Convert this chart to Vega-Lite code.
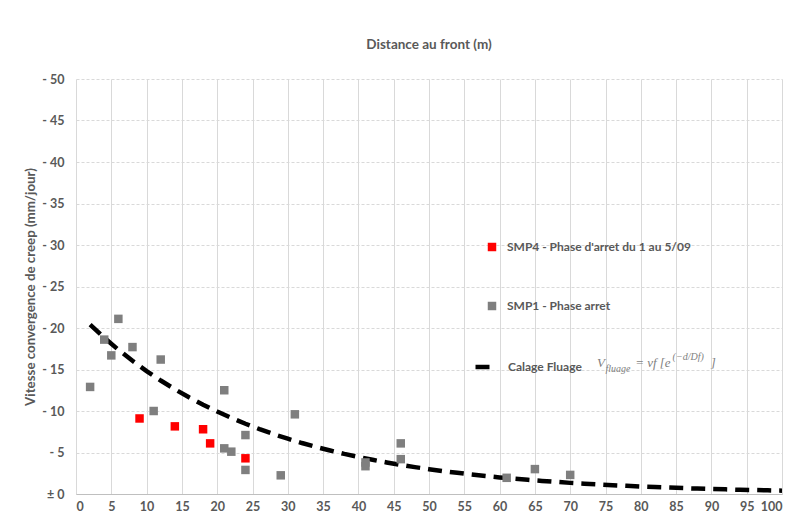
{
  "$schema": "https://vega.github.io/schema/vega-lite/v6.json",
  "autosize": "none",
  "width": 706,
  "height": 415,
  "padding": {"left": 76, "top": 79, "right": 8, "bottom": 27},
  "background": "white",
  "config": {
    "font": "Lato",
    "view": {"stroke": null},
    "axis": {"labelColor": "#595959", "titleColor": "#595959", "labelFont": "Lato", "titleFont": "Lato", "labelFontWeight": "bold", "titleFontWeight": "bold", "labelFontSize": 12.5, "titleFontSize": 13.3, "gridColor": "#d9d9d9", "ticks": false, "labelOverlap": false}
  },
  "title": {"text": "Distance au front (m)", "anchor": "middle", "frame": "group", "fontSize": 13.5, "fontWeight": "bold", "color": "#595959", "font": "Lato", "offset": 22},
  "datasets": {
    "pts": [
      {"d": 2, "v": 12.9, "series": "SMP1 - Phase arret"},
      {"d": 4, "v": 18.6, "series": "SMP1 - Phase arret"},
      {"d": 5, "v": 16.7, "series": "SMP1 - Phase arret"},
      {"d": 6, "v": 21.1, "series": "SMP1 - Phase arret"},
      {"d": 8, "v": 17.7, "series": "SMP1 - Phase arret"},
      {"d": 11, "v": 10.0, "series": "SMP1 - Phase arret"},
      {"d": 12, "v": 16.2, "series": "SMP1 - Phase arret"},
      {"d": 21, "v": 12.5, "series": "SMP1 - Phase arret"},
      {"d": 21, "v": 5.5, "series": "SMP1 - Phase arret"},
      {"d": 22, "v": 5.1, "series": "SMP1 - Phase arret"},
      {"d": 24, "v": 7.1, "series": "SMP1 - Phase arret"},
      {"d": 24, "v": 2.9, "series": "SMP1 - Phase arret"},
      {"d": 29, "v": 2.25, "series": "SMP1 - Phase arret"},
      {"d": 31, "v": 9.6, "series": "SMP1 - Phase arret"},
      {"d": 41, "v": 3.8, "series": "SMP1 - Phase arret"},
      {"d": 41, "v": 3.35, "series": "SMP1 - Phase arret"},
      {"d": 46, "v": 6.1, "series": "SMP1 - Phase arret"},
      {"d": 46, "v": 4.2, "series": "SMP1 - Phase arret"},
      {"d": 61, "v": 1.95, "series": "SMP1 - Phase arret"},
      {"d": 65, "v": 3.0, "series": "SMP1 - Phase arret"},
      {"d": 70, "v": 2.3, "series": "SMP1 - Phase arret"},
      {"d": 9, "v": 9.1, "series": "SMP4 - Phase d'arret du 1 au 5/09"},
      {"d": 14, "v": 8.15, "series": "SMP4 - Phase d'arret du 1 au 5/09"},
      {"d": 18, "v": 7.8, "series": "SMP4 - Phase d'arret du 1 au 5/09"},
      {"d": 19, "v": 6.1, "series": "SMP4 - Phase d'arret du 1 au 5/09"},
      {"d": 24, "v": 4.3, "series": "SMP4 - Phase d'arret du 1 au 5/09"}
    ],
    "fit": [
      {"d": 2, "v": 20.40, "name": "Calage Fluage"}, {"d": 4, "v": 18.83, "name": "Calage Fluage"}, {"d": 6, "v": 17.38, "name": "Calage Fluage"}, {"d": 8, "v": 16.05, "name": "Calage Fluage"},
      {"d": 10, "v": 14.81, "name": "Calage Fluage"}, {"d": 12, "v": 13.67, "name": "Calage Fluage"}, {"d": 14, "v": 12.62, "name": "Calage Fluage"}, {"d": 16, "v": 11.65, "name": "Calage Fluage"},
      {"d": 18, "v": 10.76, "name": "Calage Fluage"}, {"d": 20, "v": 9.93, "name": "Calage Fluage"}, {"d": 22, "v": 9.17, "name": "Calage Fluage"}, {"d": 24, "v": 8.46, "name": "Calage Fluage"},
      {"d": 26, "v": 7.81, "name": "Calage Fluage"}, {"d": 28, "v": 7.21, "name": "Calage Fluage"}, {"d": 30, "v": 6.66, "name": "Calage Fluage"}, {"d": 32, "v": 6.14, "name": "Calage Fluage"},
      {"d": 34, "v": 5.67, "name": "Calage Fluage"}, {"d": 36, "v": 5.24, "name": "Calage Fluage"}, {"d": 38, "v": 4.83, "name": "Calage Fluage"}, {"d": 40, "v": 4.46, "name": "Calage Fluage"},
      {"d": 42, "v": 4.12, "name": "Calage Fluage"}, {"d": 44, "v": 3.80, "name": "Calage Fluage"}, {"d": 46, "v": 3.51, "name": "Calage Fluage"}, {"d": 48, "v": 3.24, "name": "Calage Fluage"},
      {"d": 50, "v": 2.99, "name": "Calage Fluage"}, {"d": 52, "v": 2.76, "name": "Calage Fluage"}, {"d": 54, "v": 2.55, "name": "Calage Fluage"}, {"d": 56, "v": 2.35, "name": "Calage Fluage"},
      {"d": 58, "v": 2.17, "name": "Calage Fluage"}, {"d": 60, "v": 2.00, "name": "Calage Fluage"}, {"d": 62, "v": 1.85, "name": "Calage Fluage"}, {"d": 64, "v": 1.71, "name": "Calage Fluage"},
      {"d": 66, "v": 1.58, "name": "Calage Fluage"}, {"d": 68, "v": 1.46, "name": "Calage Fluage"}, {"d": 70, "v": 1.34, "name": "Calage Fluage"}, {"d": 72, "v": 1.24, "name": "Calage Fluage"},
      {"d": 74, "v": 1.15, "name": "Calage Fluage"}, {"d": 76, "v": 1.06, "name": "Calage Fluage"}, {"d": 78, "v": 0.98, "name": "Calage Fluage"}, {"d": 80, "v": 0.90, "name": "Calage Fluage"},
      {"d": 82, "v": 0.83, "name": "Calage Fluage"}, {"d": 84, "v": 0.77, "name": "Calage Fluage"}, {"d": 86, "v": 0.71, "name": "Calage Fluage"}, {"d": 88, "v": 0.65, "name": "Calage Fluage"},
      {"d": 90, "v": 0.60, "name": "Calage Fluage"}, {"d": 92, "v": 0.56, "name": "Calage Fluage"}, {"d": 94, "v": 0.51, "name": "Calage Fluage"}, {"d": 96, "v": 0.48, "name": "Calage Fluage"},
      {"d": 98, "v": 0.44, "name": "Calage Fluage"}, {"d": 100, "v": 0.40, "name": "Calage Fluage"}
    ],
    "formula": [
      {"part": "V", "d": 73.8, "v": 15.3, "kind": "main"},
      {"part": "fluage", "d": 75.0, "v": 14.7, "kind": "sub"},
      {"part": "= vf [e", "d": 79.2, "v": 15.3, "kind": "main"},
      {"part": "(−d/Df)", "d": 84.5, "v": 16.2, "kind": "sub"},
      {"part": "]", "d": 89.9, "v": 15.3, "kind": "main"}
    ]
  },
  "encoding": {
    "x": {"field": "d", "type": "quantitative", "scale": {"domain": [0, 100]},
      "axis": {"values": [0,5,10,15,20,25,30,35,40,45,50,55,60,65,70,75,80,85,90,95,100], "tickCount": 30, "title": null, "domainColor": "#bfbfbf", "labelPadding": 6, "gridDash": [], "labelOverlap": false}},
    "y": {"field": "v", "type": "quantitative", "scale": {"domain": [0, 50]},
      "axis": {"values": [0,5,10,15,20,25,30,35,40,45,50], "tickCount": 15, "title": "Vitesse convergence de creep (mm/jour)", "labelExpr": "datum.value === 0 ? '± 0' : '- ' + datum.value", "domain": false, "gridDash": [3, 2], "labelPadding": 12, "titlePadding": 4}}
  },
  "layer": [
    {
      "data": {"name": "fit"},
      "mark": {"type": "line", "color": "black", "strokeWidth": 4.5, "strokeCap": "butt"},
      "encoding": {
        "strokeDash": {"field": "name", "type": "nominal",
          "scale": {"domain": ["Calage Fluage"], "range": [[14, 8]]},
          "legend": {"title": null, "orient": "none", "legendX": 397, "legendY": 277, "symbolType": "stroke", "symbolSize": 289, "symbolStrokeWidth": 4.5, "symbolStrokeColor": "black", "labelFontSize": 12, "labelFont": "Lato", "labelFontWeight": "bold", "labelColor": "#595959", "labelOffset": 13, "labelLimit": 0}}
      }
    },
    {
      "data": {"name": "pts"},
      "mark": {"type": "point", "filled": true, "opacity": 1, "size": 72, "shape": "square"},
      "encoding": {
        "color": {"field": "series", "type": "nominal",
          "scale": {"domain": ["SMP4 - Phase d'arret du 1 au 5/09", "SMP1 - Phase arret"], "range": ["#ff0000", "#7f7f7f"]},
          "legend": {"title": null, "orient": "none", "legendX": 410, "legendY": 162, "rowPadding": 47, "symbolType": "square", "labelFontSize": 12, "labelFont": "Lato", "labelFontWeight": "bold", "labelColor": "#595959", "labelOffset": 9, "symbolSize": 72, "labelLimit": 0}}
      }
    },
    {
      "data": {"name": "formula"},
      "mark": {"type": "text", "align": "left", "baseline": "alphabetic", "font": "Liberation Serif", "fontStyle": "italic", "color": "#7f7f7f"},
      "encoding": {
        "text": {"field": "part"},
        "size": {"field": "kind", "type": "nominal", "scale": {"domain": ["main", "sub"], "range": [13, 10]}, "legend": null}
      }
    }
  ]
}
